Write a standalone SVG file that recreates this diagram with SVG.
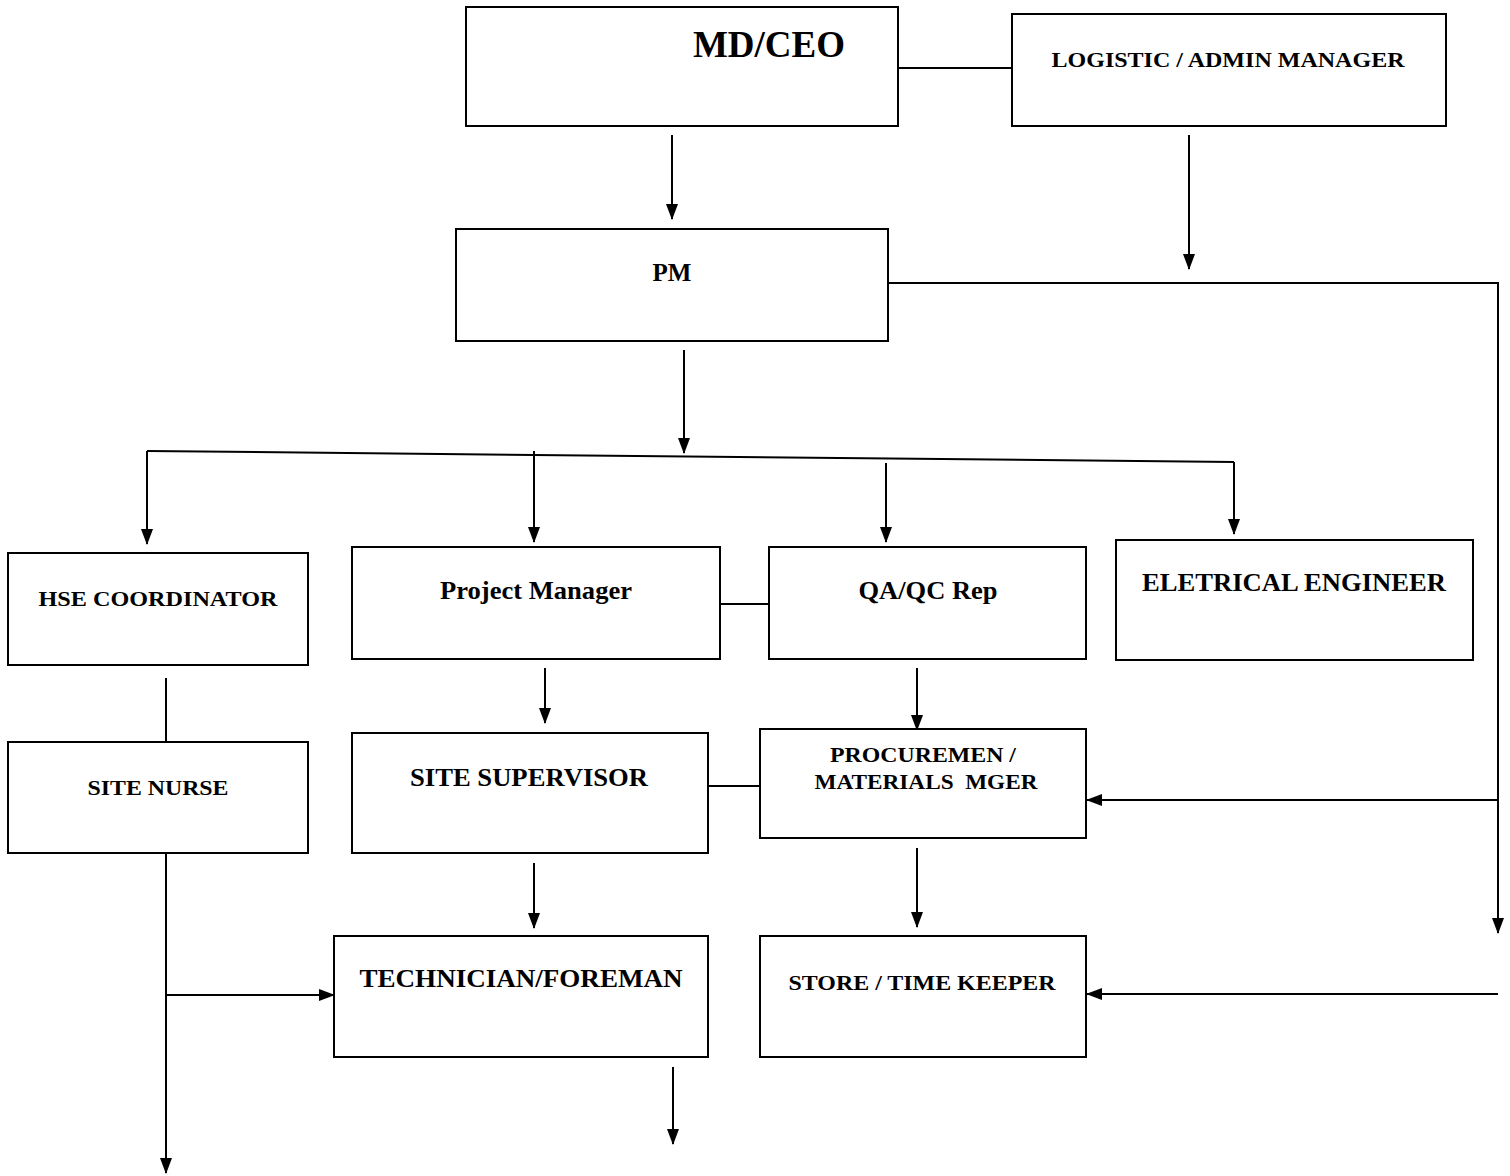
<svg xmlns="http://www.w3.org/2000/svg" width="1510" height="1176" viewBox="0 0 1510 1176">
<style>
.box{fill:#fff;stroke:#000;stroke-width:2}
.t{font-family:"Liberation Serif","Times New Roman",serif;font-weight:bold;fill:#000;text-anchor:middle}
.c{fill:none;stroke:#000;stroke-width:2}
.a{marker-end:url(#arr)}
</style>
<defs>
<marker id="arr" markerUnits="userSpaceOnUse" markerWidth="16" markerHeight="12" refX="15" refY="6" orient="auto" viewBox="0 0 16 12">
<path d="M0,0 L16,6 L0,12 Z" fill="#000"/>
</marker>
</defs>
<rect width="1510" height="1176" fill="#fff"/>
<g id="connectors">
<line class="c" x1="890" y1="68" x2="1012" y2="68"/>
<line class="c a" x1="672" y1="135" x2="672" y2="219"/>
<line class="c a" x1="1189" y1="135" x2="1189" y2="269"/>
<polyline class="c a" points="888,283 1498,283 1498,933"/>
<line class="c a" x1="1498" y1="800" x2="1087" y2="800"/>
<line class="c a" x1="1498" y1="994" x2="1087" y2="994"/>
<line class="c a" x1="684" y1="350" x2="684" y2="453"/>
<line class="c" x1="147" y1="451" x2="1234" y2="462"/>
<line class="c a" x1="147" y1="451" x2="147" y2="544"/>
<line class="c a" x1="534" y1="451" x2="534" y2="542"/>
<line class="c a" x1="886" y1="463" x2="886" y2="542"/>
<line class="c a" x1="1234" y1="462" x2="1234" y2="534"/>
<line class="c" x1="720" y1="604" x2="769" y2="604"/>
<line class="c" x1="166" y1="678" x2="166" y2="742"/>
<line class="c a" x1="545" y1="668" x2="545" y2="723"/>
<line class="c a" x1="917" y1="668" x2="917" y2="730"/>
<line class="c" x1="708" y1="786" x2="760" y2="786"/>
<line class="c a" x1="166" y1="853" x2="166" y2="1173"/>
<line class="c a" x1="166" y1="995" x2="334" y2="995"/>
<line class="c a" x1="534" y1="863" x2="534" y2="928"/>
<line class="c a" x1="917" y1="848" x2="917" y2="927"/>
<line class="c a" x1="673" y1="1067" x2="673" y2="1144"/>
</g>
<g id="md-ceo"><rect class="box" x="466" y="7" width="432" height="119"/><text class="t" x="769" y="57" font-size="37">MD/CEO</text></g>
<g id="logistic"><rect class="box" x="1012" y="14" width="434" height="112"/><text class="t" x="1228" y="67" font-size="22" textLength="353" lengthAdjust="spacingAndGlyphs">LOGISTIC / ADMIN MANAGER</text></g>
<g id="pm"><rect class="box" x="456" y="229" width="432" height="112"/><text class="t" x="672" y="281" font-size="25">PM</text></g>
<g id="hse"><rect class="box" x="8" y="553" width="300" height="112"/><text class="t" x="158" y="606" font-size="22" textLength="239" lengthAdjust="spacingAndGlyphs">HSE COORDINATOR</text></g>
<g id="project-manager"><rect class="box" x="352" y="547" width="368" height="112"/><text class="t" x="536" y="599" font-size="25" textLength="192" lengthAdjust="spacingAndGlyphs">Project Manager</text></g>
<g id="qaqc"><rect class="box" x="769" y="547" width="317" height="112"/><text class="t" x="928" y="599" font-size="25" textLength="139" lengthAdjust="spacingAndGlyphs">QA/QC Rep</text></g>
<g id="electrical"><rect class="box" x="1116" y="540" width="357" height="120"/><text class="t" x="1294" y="591" font-size="25" textLength="304" lengthAdjust="spacingAndGlyphs">ELETRICAL ENGINEER</text></g>
<g id="site-nurse"><rect class="box" x="8" y="742" width="300" height="111"/><text class="t" x="158" y="795" font-size="22" textLength="141" lengthAdjust="spacingAndGlyphs">SITE NURSE</text></g>
<g id="site-supervisor"><rect class="box" x="352" y="733" width="356" height="120"/><text class="t" x="529" y="786" font-size="25" textLength="238" lengthAdjust="spacingAndGlyphs">SITE SUPERVISOR</text></g>
<g id="procurement"><rect class="box" x="760" y="729" width="326" height="109"/><text class="t" x="923" y="762" font-size="21" textLength="186" lengthAdjust="spacingAndGlyphs">PROCUREMEN /</text><text class="t" x="926" y="789" font-size="21" textLength="223" lengthAdjust="spacingAndGlyphs" xml:space="preserve">MATERIALS  MGER</text></g>
<g id="technician"><rect class="box" x="334" y="936" width="374" height="121"/><text class="t" x="521" y="987" font-size="25" textLength="323" lengthAdjust="spacingAndGlyphs">TECHNICIAN/FOREMAN</text></g>
<g id="store"><rect class="box" x="760" y="936" width="326" height="121"/><text class="t" x="922" y="990" font-size="22" textLength="267" lengthAdjust="spacingAndGlyphs">STORE / TIME KEEPER</text></g>
</svg>
